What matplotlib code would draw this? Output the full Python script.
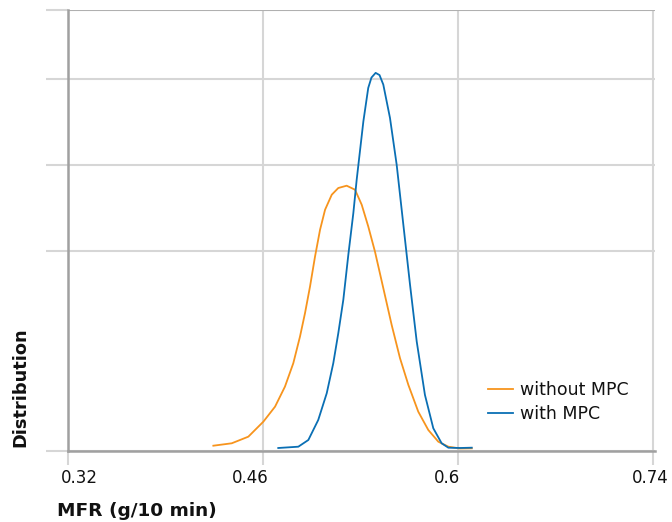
import matplotlib
matplotlib.use("Agg")
import matplotlib.pyplot as plt
import matplotlib.transforms as mtransforms

# ---- data ----
x_without = [0.4247, 0.4379, 0.4498, 0.4606, 0.4690, 0.4761, 0.4821, 0.4869, 0.4905,
             0.4941, 0.4977, 0.5013, 0.5049, 0.5097, 0.5144, 0.5204, 0.5264, 0.5312,
             0.5359, 0.5407, 0.5467, 0.5527, 0.5587, 0.5647, 0.5718, 0.5790, 0.5862,
             0.5934, 0.6018, 0.6102]
y_without = [4.8, 7.2, 13.8, 28.8, 43.8, 63.8, 87.2, 113.8, 137.2,
             163.8, 193.8, 220.5, 240.5, 255.5, 262.2, 264.5, 260.5, 245.5,
             223.8, 198.8, 162.2, 125.5, 92.2, 65.5, 38.8, 20.5, 8.8,
             3.8, 2.0, 2.2]

x_with = [0.4713, 0.4857, 0.4929, 0.5000, 0.5061, 0.5108, 0.5144, 0.5180, 0.5216,
          0.5252, 0.5276, 0.5324, 0.5359, 0.5382, 0.5412, 0.5440, 0.5467, 0.5515,
          0.5563, 0.5611, 0.5659, 0.5707, 0.5766, 0.5826, 0.5886, 0.5934, 0.6018,
          0.6102]
y_with = [2.5, 3.8, 10.5, 30.5, 57.2, 87.2, 117.2, 150.5, 195.5,
          237.2, 270.5, 328.8, 362.2, 372.5, 377.2, 375.0, 365.5, 332.2,
          285.5, 225.5, 165.5, 108.8, 55.5, 22.2, 7.2, 2.8, 2.5,
          2.8]

x_ticks = [0.32, 0.46, 0.6, 0.74]
x_tick_labels = ["0.32", "0.46", "0.6", "0.74"]
y_ticks = [0, 199, 285.5, 371.5, 440]

series_names = ["without MPC", "with MPC"]
colors = ["#F7941D", "#0A6FB4"]

plt.rcParams['font.family'] = ['DejaVu Sans']

W, H = 672, 522
fig = plt.figure(figsize=(W / 100, H / 100), dpi=100)
ax = fig.add_axes([67.5 / W, (H - 450.5) / H, (655 - 67.5) / W, (450.5 - 10) / H])

ax.plot(x_without, y_without, color=colors[0], lw=1.3, label=series_names[0], zorder=3,
        solid_joinstyle='round')
ax.plot(x_with, y_with, color=colors[1], lw=1.3, label=series_names[1], zorder=3,
        solid_joinstyle='round')

ax.set_xlim(0.32, 0.32 + (655 - 67.5) / 1393)
ax.set_ylim(0, 440)

ax.set_xticks(x_ticks)
ax.set_xticklabels(x_tick_labels, fontsize=12)
ax.set_yticks(y_ticks)
ax.set_yticklabels([])

grid_c = "#D6D6D6"
ax.grid(True, color=grid_c, lw=1.5, zorder=0)
ax.tick_params(axis='x', length=10, width=1.5, color=grid_c, pad=3, labelcolor="#111111")
ax.tick_params(axis='y', length=16, width=1.5, color=grid_c)
# darker top gridline
ax.yaxis.get_gridlines()[-1].set_color("#B0B0B0")
ax.yaxis.get_ticklines()[-2].set_color("#B0B0B0")

for s in ["top", "right"]:
    ax.spines[s].set_visible(False)
for s in ["left", "bottom"]:
    ax.spines[s].set_color("#A0A0A0")
    ax.spines[s].set_linewidth(1.8)
    ax.spines[s].set_zorder(4)

# label offsets as in the reference
offsets = [12, -12, -11, -2]
for lab, dx in zip(ax.get_xticklabels(), offsets):
    lab.set_transform(lab.get_transform() + mtransforms.ScaledTranslation(dx / 100, 0, fig.dpi_scale_trans))

fig.text(57 / W, (H - 510.5) / H, "MFR (g/10 min)", fontsize=13.3, fontweight='bold',
         ha='left', va='center', color="#111111")
fig.text(20.5 / W, (H - 447) / H, "Distribution", fontsize=12.8, fontweight='bold',
         rotation=90, ha='center', va='bottom', color="#111111")

leg = ax.legend(loc='upper left', bbox_to_anchor=((488 - 67.5) / (655 - 67.5), (450.5 - 381) / 440.5),
                frameon=False, fontsize=12.5, handlelength=1.44, handletextpad=0.42,
                labelspacing=0.37, borderaxespad=0, borderpad=0)
for t in leg.get_texts():
    t.set_color("#111111")

fig.savefig("out.png", dpi=100)
